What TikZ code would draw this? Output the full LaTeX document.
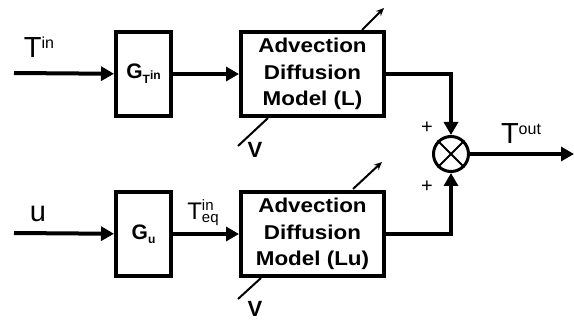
\documentclass[tikz,border=0pt]{standalone}
\usepackage{fontspec}
\setmainfont{Liberation Sans}
\newfontfamily\boxfont[FakeStretch=1.12]{Liberation Sans}
\usetikzlibrary{positioning,arrows.meta,calc}
\tikzset{
  gbox/.style ={draw,line width=4pt,minimum width=55pt,minimum height=84pt,inner sep=0pt,align=center,font=\fontsize{21}{24}\selectfont\bfseries},
  mbox/.style ={draw,line width=4pt,minimum width=143pt,minimum height=84pt,inner sep=0pt,align=center,font=\boxfont\fontsize{20}{26.5}\selectfont\bfseries},
  mix/.style  ={draw,circle,line width=3pt,minimum size=35pt,inner sep=0pt},
  ar/.style   ={-{Triangle[length=13pt,width=14pt]},line width=4pt},
  sar/.style  ={-{Stealth[length=8pt,width=7pt]},line width=2pt},
  slash/.style={line width=2pt},
  lbl/.style  ={font=\fontsize{29}{29}\selectfont,inner sep=0pt},
  sgn/.style  ={font=\fontsize{20}{20}\selectfont,inner sep=0pt},
  vlbl/.style ={font=\fontsize{22}{22}\selectfont\bfseries,inner sep=0pt},
}
\newcommand{\sps}[1]{\raisebox{9pt}{\fontsize{16}{16}\selectfont #1}}
\begin{document}
\begin{tikzpicture}[x=1pt,y=1pt,node distance=66pt and 66pt]
\useasboundingbox (0,0) rectangle (574,322);
% upper branch
\node[gbox] (gt) at (143.5,248) {G\raisebox{-5pt}{\fontsize{12}{12}\selectfont T\raisebox{4pt}{in}}};
\node[mbox,right=66pt of gt] (adl) {Advection\\Diffusion\\Model (L)};
% lower branch
\node[gbox] (gu) at (143.5,88) {G\raisebox{-4pt}{\fontsize{12}{12}\selectfont u}};
\node[mbox,right=66pt of gu] (adlu) {Advection\\Diffusion\\Model (Lu)};
% summing junction
\node[mix] (sum) at (451,168) {};
\draw[line width=2pt] (sum.north west) -- (sum.south east) (sum.north east) -- (sum.south west);

\coordinate (tin) at (14,249);
\coordinate (uin) at (14,89);
\coordinate (tout) at (574,168);
\draw[ar] (tin) -- (gt);
\draw[ar] (gt) -- (adl);
\draw[ar] (uin) -- (gu);
\draw[ar] (gu) -- (adlu);
\draw[ar] (adl.east) -| (sum.north);
\draw[ar] (adlu.east) -| (sum.south);
\draw[ar] (sum.east) -- (tout);

% velocity inputs and outputs
\coordinate (v1a) at (268,204); \coordinate (v1b) at (238,176);
\coordinate (v2a) at (261,44);  \coordinate (v2b) at (238,23);
\draw[slash] (v1a) -- (v1b);
\draw[slash] (v2a) -- (v2b);
\coordinate (o1a) at (362,292); \coordinate (o1b) at (384,314);
\coordinate (o2a) at (353,133); \coordinate (o2b) at (382,160);
\draw[sar] (o1a) -- (o1b);
\draw[sar] (o2a) -- (o2b);

% labels
\node[lbl] (ltin) at (39,275) {T\sps{in}};
\node[lbl] (lu) at (38,108) {u};
\node[font=\fontsize{24}{24}\selectfont,inner sep=0pt] (lteq) at (203,109)
  {T\fontsize{15}{15}\selectfont\rlap{\raisebox{9pt}{in}}\raisebox{-3pt}{eq}};
\node[lbl] (ltout) at (521,188) {T\sps{out}};
\node[sgn] (p1) at (427,194) {+};
\node[sgn] (p2) at (427,135) {+};
\node[vlbl] (lv1) at (255,172) {V};
\node[vlbl] (lv2) at (255,13) {V};
\end{tikzpicture}
\end{document}
